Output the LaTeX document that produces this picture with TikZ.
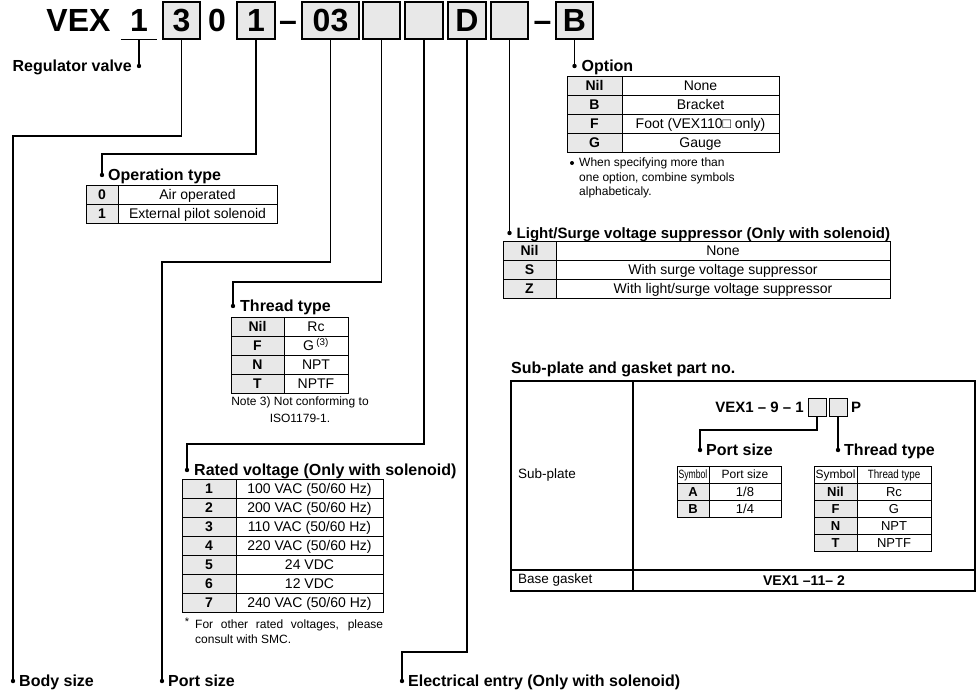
\documentclass[tikz,border=0pt]{standalone}
\usepackage{fontspec}
\setmainfont{Liberation Sans}
\usepackage{graphicx}
\usetikzlibrary{positioning}
\tikzset{
	% the part number boxes
	codebox/.style={draw, fill=black!9, line width=1.3pt, minimum height=37pt, inner sep=0pt, outer sep=0pt, text height=23pt, text depth=0pt, font=\fontsize{32}{32}\selectfont\bfseries},
	codetext/.style={inner sep=0pt, minimum height=37pt, text height=23pt, text depth=0pt, font=\fontsize{32}{32}\selectfont\bfseries},
	% table cells
	symcell/.style={draw, fill=black!9, line width=0.9pt, minimum height=19pt, inner sep=0pt, outer sep=0pt, text height=10pt, text depth=0pt, font=\fontsize{14}{14}\selectfont\bfseries},
	txtcell/.style={symcell, fill=white, font=\fontsize{14}{14}\selectfont},
	subsym/.style={symcell, minimum height=17pt, text height=9.3pt, font=\fontsize{13}{13}\selectfont\bfseries},
	subtxt/.style={subsym, fill=white, font=\fontsize{13}{13}\selectfont},
	subhead/.style={subsym, fill=white, text height=8.6pt, font=\fontsize{12}{12}\selectfont},
	platecell/.style={draw, line width=1.1pt, inner sep=0pt, outer sep=0pt, anchor=north west},
	% labels next to the dots
	headlbl/.style={inner sep=0pt, text height=11.5pt, text depth=0pt, font=\fontsize{16}{16}\selectfont\bfseries},
	notetext/.style={inner sep=0pt, font=\fontsize{12}{14.5}\selectfont},
	conn/.style={line width=1.2pt},
}
\begin{document}
\begin{tikzpicture}[x=1pt, y=-1pt]
\useasboundingbox (0,0) rectangle (979,690);
% the part number
\node[codetext] (vex) at (78.5,20.5) {VEX};
\node[codetext, minimum width=36pt] (regnum) at (139,20.5) {1};
\node[codebox, minimum width=37pt] (bsize) at (181.5,20.5) {3};
\node[codetext] (zero) at (217,20.5) {0};
\node[codebox, minimum width=38pt] (boper) at (256,20.5) {1};
\node[codetext] (dasha) at (288,20.5) {–};
\node[codebox, minimum width=57pt] (bport) at (330.5,20.5) {03};
\node[codebox, minimum width=37pt] (bthread) at (381.5,20.5) {};
\node[codebox, minimum width=38pt] (bvolt) at (424,20.5) {};
\node[codebox, minimum width=38pt] (belec) at (467,20.5) {D};
\node[codebox, minimum width=37pt] (blight) at (509.5,20.5) {};
\node[codetext] (dashb) at (542.5,20.5) {–};
\node[codebox, minimum width=37pt] (bopt) at (574.5,20.5) {B};
\draw[conn] (regnum.south west) -- (regnum.south east);

% the dots at the end of the lines
\coordinate (regdot) at (139,66);
\coordinate (sizedot) at (13,681);
\coordinate (operdot) at (102,175);
\coordinate (portdot) at (162,681);
\coordinate (threaddot) at (233,306);
\coordinate (voltdot) at (187,470);
\coordinate (elecdot) at (402,681);
\coordinate (lightdot) at (509.5,233);
\coordinate (optdot) at (574.5,66);
\foreach \p in {regdot,sizedot,operdot,portdot,threaddot,voltdot,elecdot,lightdot,optdot}
  \fill (\p) circle (2.2);

% the connectors
\draw[conn] (regnum.south) -- (regdot);
\draw[conn] (bsize.south) -- ++(0,97) -| (sizedot);
\draw[conn] (boper.south) -- ++(0,115) -| (operdot);
\draw[conn] (bport.south) -- ++(0,223) -| (portdot);
\draw[conn] (bthread.south) -- ++(0,243) -| (threaddot);
\draw[conn] (bvolt.south) -- ++(0,405) -| (voltdot);
\draw[conn] (belec.south) -- ++(0,613) -| (elecdot);
\draw[conn] (blight.south) -- (lightdot);
\draw[conn] (bopt.south) -- (optdot);

% the titles
\node[headlbl, left=7pt of regdot] {Regulator valve};
\node[headlbl, right=6pt of sizedot] {Body size};
\node[headlbl, right=6pt of operdot] {Operation type};
\node[headlbl, right=6pt of portdot] {Port size};
\node[headlbl, right=7pt of threaddot] {Thread type};
\node[headlbl, right=7pt of voltdot] {Rated voltage (Only with solenoid)};
\node[headlbl, right=6pt of elecdot] {Electrical entry (Only with solenoid)};
\node[headlbl, right=7pt of lightdot, font=\fontsize{15}{15}\selectfont\bfseries] {Light/Surge voltage suppressor (Only with solenoid)};
\node[headlbl, right=7pt of optdot] {Option};

% operation type
\foreach \s/\d [count=\i] in {0/Air operated, 1/External pilot solenoid} {
  \node[symcell, minimum width=32pt] (opers\i) at (102,{175.5+19*\i}) {\s};
  \node[txtcell, minimum width=159pt, right=0pt of opers\i] (operd\i) {\d};
}
% option
\foreach \s/\d [count=\i] in {Nil/None, B/Bracket, F/Foot (VEX110□ only), G/Gauge} {
  \node[symcell, minimum width=55pt] (opts\i) at (594.5,{66.5+19*\i}) {\s};
  \node[txtcell, minimum width=157pt, right=0pt of opts\i] (optd\i) {\d};
}
\fill (572,163) circle (2);
\node[notetext, align=left, anchor=north west] (optnote) at (579,158) {When specifying more than\\one option, combine symbols\\alphabeticaly.};
% light/surge voltage suppressor
\foreach \s/\d [count=\i] in {Nil/None, S/With surge voltage suppressor, Z/{With light/surge voltage suppressor}} {
  \node[symcell, minimum width=53pt] (lights\i) at (529.5,{231.5+19*\i}) {\s};
  \node[txtcell, minimum width=334pt, right=0pt of lights\i] (lightd\i) {\d};
}
% thread type
\foreach \s/\d [count=\i] in {Nil/Rc, F/{G\,\textsuperscript{(3)}}, N/NPT, T/NPTF} {
  \node[symcell, minimum width=53pt] (threads\i) at (257.5,{307.5+19*\i}) {\s};
  \node[txtcell, minimum width=64pt, right=0pt of threads\i] (threadd\i) {\d};
}
\node[notetext, align=center, anchor=north, font=\fontsize{12}{17}\selectfont] (threadnote) at (300,397) {Note 3) Not conforming to\\ISO1179-1.};
% rated voltage
\foreach \s/\d [count=\i] in {1/{100 VAC (50/60 Hz)}, 2/{200 VAC (50/60 Hz)}, 3/{110 VAC (50/60 Hz)}, 4/{220 VAC (50/60 Hz)}, 5/24 VDC, 6/12 VDC, 7/{240 VAC (50/60 Hz)}} {
  \node[symcell, minimum width=54pt] (volts\i) at (209,{469.5+19*\i}) {\s};
  \node[txtcell, minimum width=147pt, right=0pt of volts\i] (voltd\i) {\d};
}
\node[notetext, anchor=north, font=\fontsize{11}{11}\selectfont] (voltstar) at (187,618) {*};
\node[notetext, anchor=north west, text width=188pt, align=justify, font=\fontsize{12}{15}\selectfont] (voltnote) at (195,620) {For other rated voltages, please consult with SMC.};

% sub-plate and gasket
\node[headlbl, anchor=base west] (sptitle) at (511,373) {Sub-plate and gasket part no.};
\node[platecell, minimum width=122pt, minimum height=189pt] (spname) at (511,381) {};
\node[platecell, minimum width=342pt, minimum height=189pt] (spbody) at (633,381) {};
\node[platecell, minimum width=122pt, minimum height=21pt] (gkname) at (511,570) {};
\node[platecell, minimum width=342pt, minimum height=21pt, text height=10pt, text depth=0pt, font=\fontsize{14}{14}\selectfont\bfseries] (gkbody) at (633,570) {VEX1 –11– 2};
\node[inner sep=0pt, anchor=west, font=\fontsize{13.5}{13.5}\selectfont] at ([xshift=7pt]spname.west) {Sub-plate};
\node[inner sep=0pt, anchor=west, font=\fontsize{13.5}{13.5}\selectfont] at ([xshift=7pt]gkname.west) {Base gasket};
\node[inner sep=0pt, anchor=east, text height=10.7pt, text depth=0pt, font=\fontsize{15}{15}\selectfont\bfseries] (spcode) at (804,407) {VEX1 – 9 – 1};
\node[draw, fill=black!9, line width=1pt, minimum size=18pt, inner sep=0pt, outer sep=0pt] (spport) at (817,407) {};
\node[draw, fill=black!9, line width=1pt, minimum size=18pt, inner sep=0pt, outer sep=0pt] (spthread) at (838,407) {};
\node[inner sep=0pt, anchor=west, text height=10.7pt, text depth=0pt, font=\fontsize{15}{15}\selectfont\bfseries] (spp) at (851,407) {P};
\coordinate (spportdot) at (700,450);
\coordinate (spthreaddot) at (838,450);
\fill (spportdot) circle (2.2);
\fill (spthreaddot) circle (2.2);
\draw[conn] (spport.south) -- ++(0,14) -| (spportdot);
\draw[conn] (spthread.south) -- (spthreaddot);
\node[headlbl, right=6pt of spportdot] {Port size};
\node[headlbl, right=6pt of spthreaddot] {Thread type};
\node[subhead, minimum width=32pt] (spph) at (693,474.5) {\scalebox{0.72}[1]{Symbol}};
\node[subhead, minimum width=72pt, right=0pt of spph] {Port size};
\foreach \s/\d [count=\i] in {A/{1/8}, B/{1/4}} {
  \node[subsym, minimum width=32pt] (spps\i) at (693,{474.5+17*\i}) {\s};
  \node[subtxt, minimum width=72pt, right=0pt of spps\i] {\d};
}
\node[subhead, minimum width=43pt] (spth) at (835.5,474.5) {Symbol};
\node[subhead, minimum width=74pt, right=0pt of spth] {\scalebox{0.82}[1]{Thread type}};
\foreach \s/\d [count=\i] in {Nil/Rc, F/G, N/NPT, T/NPTF} {
  \node[subsym, minimum width=43pt] (spts\i) at (835.5,{474.5+17*\i}) {\s};
  \node[subtxt, minimum width=74pt, right=0pt of spts\i] {\d};
}
\end{tikzpicture}
\end{document}
